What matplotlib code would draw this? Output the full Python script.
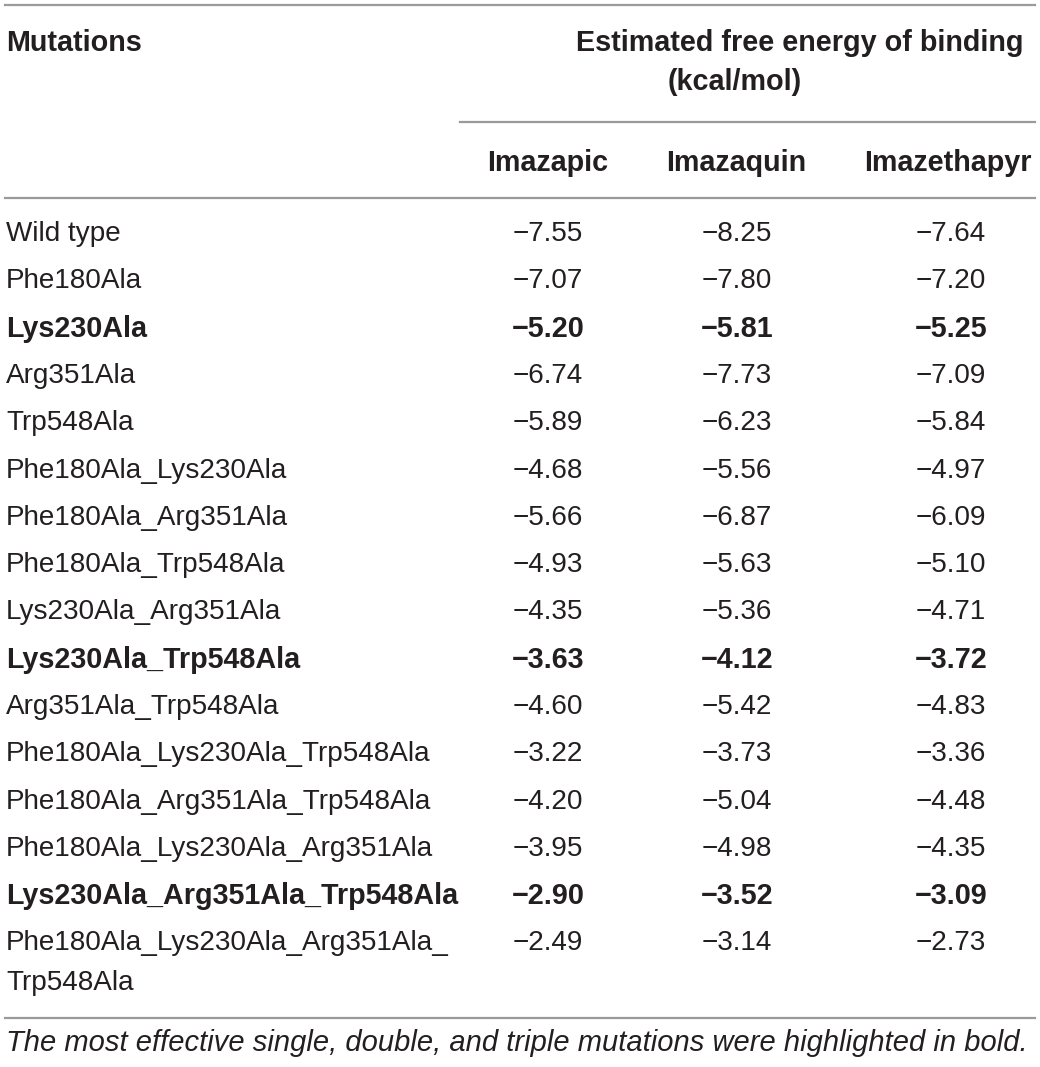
import matplotlib
matplotlib.use("Agg")
import matplotlib.pyplot as plt

mutations = ["Wild type", "Phe180Ala", "Lys230Ala", "Arg351Ala", "Trp548Ala",
             "Phe180Ala_Lys230Ala", "Phe180Ala_Arg351Ala", "Phe180Ala_Trp548Ala",
             "Lys230Ala_Arg351Ala", "Lys230Ala_Trp548Ala", "Arg351Ala_Trp548Ala",
             "Phe180Ala_Lys230Ala_Trp548Ala", "Phe180Ala_Arg351Ala_Trp548Ala",
             "Phe180Ala_Lys230Ala_Arg351Ala", "Lys230Ala_Arg351Ala_Trp548Ala",
             "Phe180Ala_Lys230Ala_Arg351Ala_\nTrp548Ala"]
imazapic = [-7.55, -7.07, -5.20, -6.74, -5.89, -4.68, -5.66, -4.93, -4.35, -3.63,
            -4.60, -3.22, -4.20, -3.95, -2.90, -2.49]
imazaquin = [-8.25, -7.80, -5.81, -7.73, -6.23, -5.56, -6.87, -5.63, -5.36, -4.12,
             -5.42, -3.73, -5.04, -4.98, -3.52, -3.14]
imazethapyr = [-7.64, -7.20, -5.25, -7.09, -5.84, -4.97, -6.09, -5.10, -4.71, -3.72,
               -4.83, -3.36, -4.48, -4.35, -3.09, -2.73]
bold_rows = ["Lys230Ala", "Lys230Ala_Trp548Ala", "Lys230Ala_Arg351Ala_Trp548Ala"]
col_headers = ["Imazapic", "Imazaquin", "Imazethapyr"]
footnote = "The most effective single, double, and triple mutations were highlighted in bold."

W, H = 1040, 1067
fig = plt.figure(figsize=(W / 100, H / 100), dpi=100)
ax = fig.add_axes([0, 0, 1, 1])
ax.set_xlim(0, W)
ax.set_ylim(H, 0)
ax.axis("off")

FONT = "Liberation Sans"
FS_B = 20.7
FS_R = 20.1
FS_I = 21.0
TXT = "#231f20"
LINE = "#9a9a9a"

def fmt(v):
    return ("\u2212" if v < 0 else "") + f"{abs(v):.2f}"

# rules
ax.plot([5, 1035], [5, 5], color=LINE, lw=1.6)
ax.plot([460, 1035], [122, 122], color=LINE, lw=1.6)
ax.plot([5, 1035], [198, 198], color=LINE, lw=1.6)
ax.plot([5, 1035], [1018, 1018], color=LINE, lw=1.6)

# headers
ax.text(6, 43, "Mutations", fontfamily=FONT, fontsize=FS_B, fontweight="bold",
        color=TXT, va="center", ha="left")
ax.text(1023, 43, "Estimated free energy of binding", fontfamily=FONT, fontsize=FS_B,
        fontweight="bold", color=TXT, va="center", ha="right")
ax.text(735, 82, "(kcal/mol)", fontfamily=FONT, fontsize=FS_B, fontweight="bold",
        color=TXT, va="center", ha="center")
col_x = [548, 736, 948]
for x, h in zip(col_x, col_headers):
    ax.text(x, 163, h, fontfamily=FONT, fontsize=FS_B, fontweight="bold",
            color=TXT, va="center", ha="center")

row0, dy = 234, 47.3
for i, name in enumerate(mutations):
    y = row0 + i * dy
    bold = name in bold_rows
    w = "bold" if bold else "normal"
    fs = FS_B if bold else FS_R
    if "\n" in name:
        first, second = name.split("\n")
        ax.text(6, y, first, fontfamily=FONT, fontsize=fs, fontweight=w,
                color=TXT, va="center", ha="left")
        ax.text(6, y + 40, second, fontfamily=FONT, fontsize=fs, fontweight=w,
                color=TXT, va="center", ha="left")
    else:
        ax.text(6, y, name, fontfamily=FONT, fontsize=fs, fontweight=w,
                color=TXT, va="center", ha="left")
    for x, vals in zip([548, 737, 951], [imazapic, imazaquin, imazethapyr]):
        ax.text(x, y, fmt(vals[i]), fontfamily=FONT, fontsize=fs, fontweight=w,
                color=TXT, va="center", ha="center")

ax.text(6, 1043, footnote, fontfamily=FONT, fontsize=FS_I, fontstyle="italic",
        color=TXT, va="center", ha="left")

fig.savefig("out.png", dpi=100)
